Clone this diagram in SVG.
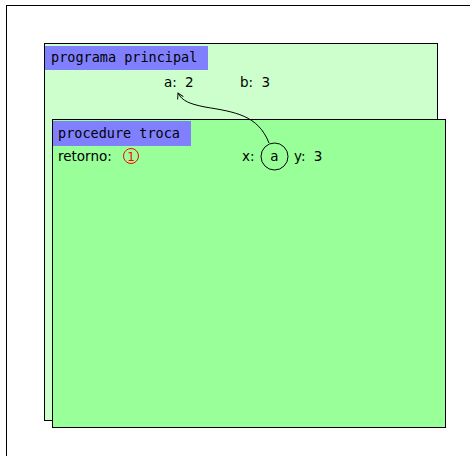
<svg xmlns="http://www.w3.org/2000/svg" width="470" height="456" viewBox="0 0 470 456">
<defs>
<style>
.frame{fill:#ccffcc;stroke:#000;stroke-width:1}
.frame2{fill:#99ff99;stroke:#000;stroke-width:1}
.lab{fill:#8080ff}
.mono{font-family:"DejaVu Sans Mono","Liberation Mono",monospace;font-size:13.5px;fill:#000}
.sans{font-family:"DejaVu Sans","Liberation Sans",sans-serif;font-size:13.5px;fill:#000;word-spacing:4px}
</style>
<marker id="ah" viewBox="0 0 10 10" refX="8" refY="5" markerWidth="8" markerHeight="8" orient="auto" markerUnits="userSpaceOnUse">
<path d="M1,1 L8,5 L1,9" fill="none" stroke="#000" stroke-width="1.2"/>
</marker>
</defs>
<rect x="0" y="0" width="470" height="456" fill="#fff"/>
<rect x="6.5" y="5.5" width="480" height="470" fill="#fff" stroke="#000" stroke-width="1"/>
<g id="programa">
<rect class="frame" x="44.5" y="43.5" width="393" height="377"/>
<rect class="lab" x="45" y="46" width="163" height="24"/>
<text class="mono" x="51" y="62">programa principal</text>
<text class="sans" x="164" y="87">a: 2</text>
<text class="sans" x="240" y="87">b: 3</text>
</g>
<g id="troca">
<rect class="frame2" x="52.5" y="119.5" width="393" height="308"/>
<rect class="lab" x="53" y="121" width="138" height="25"/>
<text class="mono" x="58" y="138">procedure troca</text>
<text class="sans" x="58" y="161">retorno:</text>
<circle cx="131" cy="156" r="7.5" fill="none" stroke="#ff0000" stroke-width="1"/>
<text x="131" y="161" text-anchor="middle" font-family="DejaVu Sans, sans-serif" font-size="12px" fill="#ff0000">1</text>
<text class="sans" x="242" y="161">x:</text>
<circle cx="274.5" cy="156.5" r="13.5" fill="none" stroke="#000" stroke-width="1"/>
<text class="sans" x="274.5" y="161" text-anchor="middle">a</text>
<text class="sans" x="294" y="161">y: 3</text>
</g>
<g id="connectors">
<path d="M269,143 C258,115 235,112 205,107 C190,104 182,101 178,93" fill="none" stroke="#000" stroke-width="1" marker-end="url(#ah)"/>
</g>
</svg>
